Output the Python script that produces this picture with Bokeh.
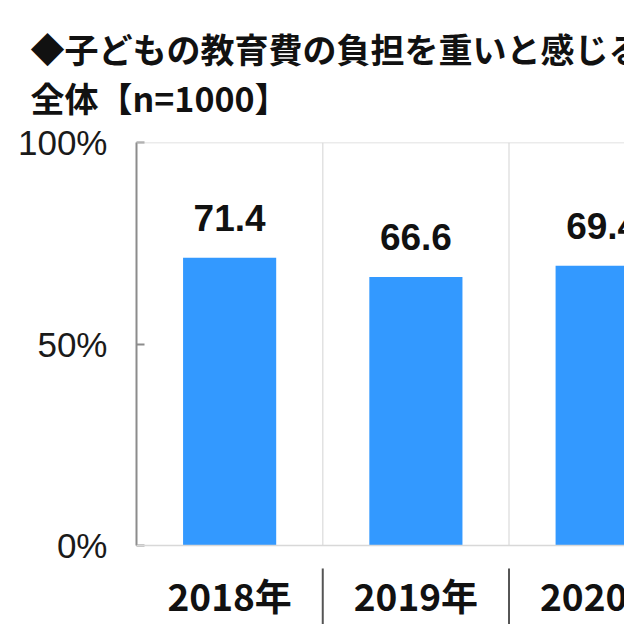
from bokeh.plotting import figure
from bokeh.models import Range1d, FixedTicker, Span, Title, ColumnDataSource
from bokeh.core.properties import value
from bokeh.embed import file_html
from bokeh.resources import INLINE

years = ["2018年", "2019年", "2020年"]
values = [71.4, 66.6, 69.4]
value_labels = ["71.4", "66.6", "69.4"]
y_ticks = [0, 50, 100]
y_tick_labels = ["0%", "50%", "100%"]
title_line1 = "◆子どもの教育費の負担を重いと感じる"
title_line2 = "全体【n=1000】"

x_pos = [i + 0.5 for i in range(len(years))]
bounds = [i for i in range(1, len(years))]
src = ColumnDataSource(dict(x=x_pos, top=values, label=value_labels, year=years))

# the frame reaches the bottom edge so that the category labels sit inside it
Y_BOTTOM = -19.6
SEP_TOP = -5.7

p = figure(width=624, height=624, output_backend="svg", toolbar_location=None,
           x_range=Range1d(0, 2.62), y_range=Range1d(Y_BOTTOM, 100),
           min_border_left=136, min_border_right=0, min_border_bottom=0,
           min_border_top=142)
p.background_fill_color = "white"
p.border_fill_color = "white"
p.outline_line_color = None
p.xaxis.visible = False
p.xgrid.grid_line_color = None
p.ygrid.grid_line_color = None

# frame lines
p.segment(x0=bounds, x1=bounds, y0=0, y1=100, line_color="#e2e2e2", line_width=1.5)
p.add_layout(Span(location=100, dimension="width", line_color="#d8d8d8", line_width=1.5))
p.add_layout(Span(location=0, dimension="width", line_color="#d8d8d8", line_width=1.5))

# bars and values
p.vbar(x="x", top="top", width=0.5, bottom=0, source=src,
       fill_color="#3399ff", line_color=None)
p.text(x="x", y="top", text="label", source=src, text_align="center",
       text_baseline="bottom", y_offset=-27,
       text_font=value("Liberation Sans"), text_font_style="bold",
       text_font_size="37px", text_color="#111111")

# category labels and separators below the zero line
p.text(x="x", y=0, text="year", source=src, text_align="center",
       text_baseline="middle", y_offset=49,
       text_font=value("Noto Sans CJK JP"), text_font_style="bold",
       text_font_size="37px", text_color="#111111")
p.segment(x0=bounds, x1=bounds, y0=Y_BOTTOM, y1=SEP_TOP,
          line_color="#555555", line_width=2)

# y axis
p.yaxis.bounds = (0, 100)
p.yaxis.ticker = FixedTicker(ticks=y_ticks)
p.yaxis.major_label_overrides = {t: l for t, l in zip(y_ticks, y_tick_labels)}
p.yaxis.major_tick_in = 8
p.yaxis.major_tick_out = 0
p.yaxis.minor_tick_line_color = None
p.yaxis.axis_line_color = "#8c8c8c"
p.yaxis.axis_line_width = 2
p.yaxis.major_tick_line_color = "#8c8c8c"
p.yaxis.major_tick_line_width = 2
p.yaxis.major_label_text_font = "Liberation Sans"
p.yaxis.major_label_text_font_size = "35px"
p.yaxis.major_label_text_color = "#1a1a1a"
p.yaxis.major_label_standoff = 29

p.title.visible = False
p.add_layout(Title(text=title_line1 + "\n" + title_line2, align="left",
                   offset=-106, standoff=41, text_line_height=1.0,
                   text_font="Noto Sans CJK JP", text_font_style="bold",
                   text_font_size="34px", text_color="#111111"), "above")

open("out.html", "w").write(file_html(p, INLINE))
